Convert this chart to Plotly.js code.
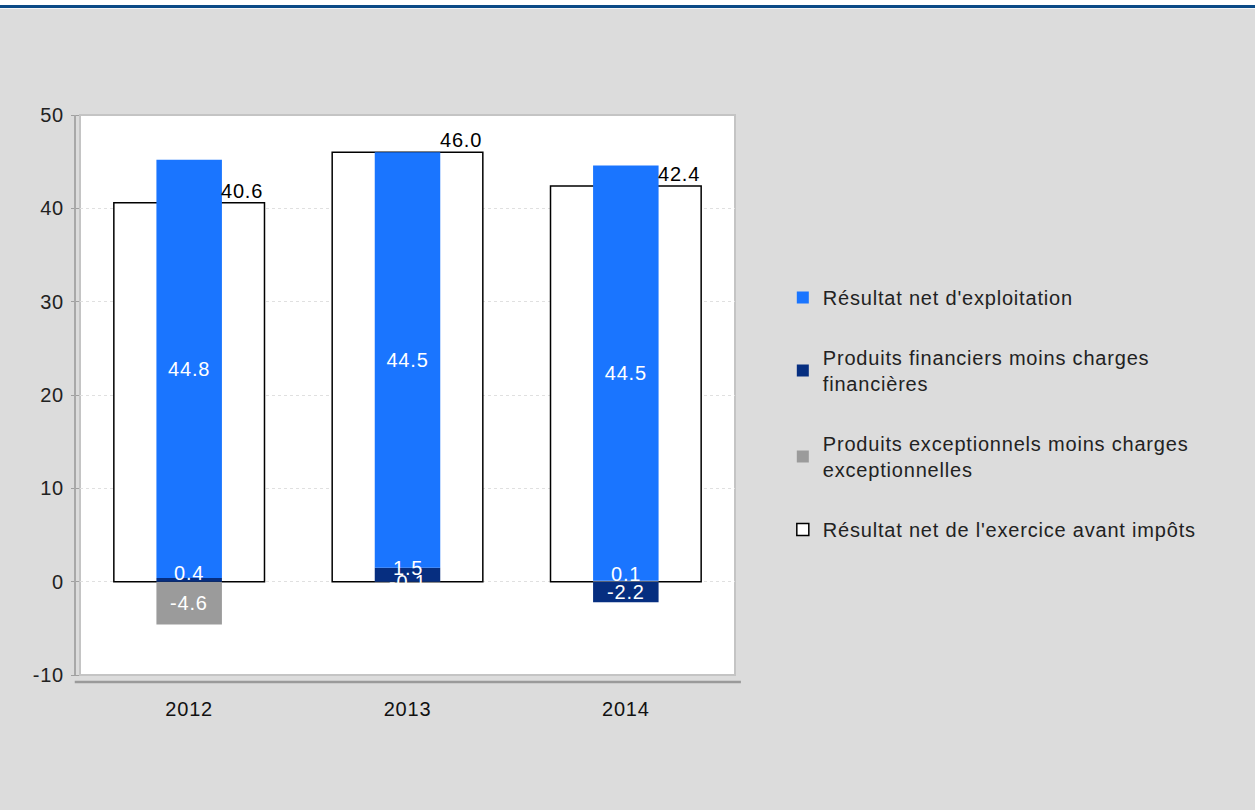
<!DOCTYPE html>
<html>
<head>
<meta charset="utf-8">
<script src="https://cdn.plot.ly/plotly-3.0.1.min.js"></script>
<style>
  html, body { margin: 0; padding: 0; background: #ffffff; }
  #topgap { height: 5px; background: #ffffff; }
  #topline { height: 3px; background: #0b4a86; }
  #topgap2 { height: 1px; background: #f4f4f4; }
  #chart { width: 1255px; height: 801px; }
  svg text { letter-spacing: 0.8px; }
</style>
</head>
<body>
<div id="topgap"></div>
<div id="topline"></div>
<div id="topgap2"></div>
<div id="chart"></div>
<script>
// ---- data ----
const years = ['2012', '2013', '2014'];
const exploitation = [44.8, 44.5, 44.5];      // Résultat net d'exploitation
const financier = [0.4, 1.5, -2.2];           // Produits financiers moins charges financières
const exceptionnel = [-4.6, -0.1, 0.1];       // Produits exceptionnels moins charges exceptionnelles
const resultat = [40.6, 46.0, 42.4];          // Résultat net de l'exercice avant impôts

const yTickVals = [-10, 0, 10, 20, 30, 40, 50];
const yTickText = ['-10', '0', '10', '20', '30', '40', '50'];

const seriesNames = [
  "Résultat net d'exploitation",
  "Produits financiers moins charges<br>financières",
  "Produits exceptionnels moins charges<br>exceptionnelles",
  "Résultat net de l'exercice avant impôts"
];

const FONT = 'Liberation Sans, Arial, sans-serif';
const FS = 20;
const BAR_W = 0.30;
const BOX_W = 0.69;
const fmt = v => v.toFixed(1);

function stackTrace(vals, name, color, rank, group, withText) {
  const t = {
    type: 'bar', x: years, y: vals, name: name,
    xaxis: 'x2', yaxis: 'y2',
    width: BAR_W,
    marker: { color: color, line: { width: 0 } },
    legendrank: rank, legendgroup: group,
    hoverinfo: 'skip'
  };
  if (withText) {
    t.text = vals.map(fmt);
    t.textposition = 'inside';
    t.insidetextanchor = 'middle';
    t.constraintext = 'none';
    t.textangle = 0;
    t.textfont = { family: FONT, size: FS, color: '#ffffff' };
  } else {
    t.textposition = 'none';
  }
  return t;
}

const traces = [
  {
    type: 'bar', x: years, y: resultat, name: seriesNames[3],
    xaxis: 'x', yaxis: 'y',
    width: BOX_W,
    marker: { color: '#ffffff', line: { color: '#000000', width: 1.5 } },
    legendrank: 4, legendgroup: 'g4',
    hoverinfo: 'skip'
  },
  stackTrace(exceptionnel, seriesNames[2], '#9b9b9b', 3, 'g3', false),
  stackTrace(financier, seriesNames[1], '#062e80', 2, 'g2', false),
  stackTrace(exploitation, seriesNames[0], '#1a75ff', 1, 'g1', true)
];

// labels of the small stacked segments (same stacking order as the traces)
const segAnnotations = [];
const posBase = years.map(() => 0);
const negBase = years.map(() => 0);
[exceptionnel, financier].forEach(series => {
  series.forEach((v, i) => {
    let c;
    if (v >= 0) { c = posBase[i] + v / 2; posBase[i] += v; }
    else { c = negBase[i] + v / 2; negBase[i] += v; }
    segAnnotations.push({
      xref: 'x', yref: 'y', x: i, y: c,
      text: fmt(v), showarrow: false,
      xanchor: 'center', yanchor: 'middle',
      yshift: (v > 0 && v < 2) ? 7 : 0,
      font: { family: FONT, size: FS, color: '#ffffff' }
    });
  });
});

const boxAnnotations = resultat.map((v, i) => ({
  xref: 'x', yref: 'y',
  x: i + BOX_W / 2, y: v,
  text: fmt(v),
  showarrow: false,
  xanchor: 'right', yanchor: 'bottom',
  font: { family: FONT, size: FS, color: '#000000' },
  borderpad: 0
}));

const layout = {
  width: 1255, height: 801,
  margin: { l: 80, r: 520, t: 106, b: 135 },
  paper_bgcolor: '#dcdcdc',
  plot_bgcolor: '#ffffff',
  barmode: 'relative',
  showlegend: true,
  font: { family: FONT, size: FS, color: '#222222' },
  xaxis: {
    type: 'category', range: [-0.5, 2.5],
    showgrid: false, zeroline: false, showline: false,
    ticks: '', ticklabelstandoff: 20,
    tickfont: { family: FONT, size: FS, color: '#111111' },
    fixedrange: true
  },
  yaxis: {
    range: [-10, 50], tickvals: yTickVals, ticktext: yTickText,
    showgrid: true, gridcolor: '#e0e0e0', griddash: '3px,3px', gridwidth: 1,
    zeroline: false, showline: false,
    ticks: 'outside', ticklen: 8, tickcolor: '#a0a0a0', tickwidth: 1,
    ticklabelstandoff: 3,
    tickfont: { family: FONT, size: FS, color: '#222222' },
    fixedrange: true
  },
  xaxis2: { type: 'category', overlaying: 'x', matches: 'x', range: [-0.5, 2.5], visible: false },
  yaxis2: { overlaying: 'y', matches: 'y', range: [-10, 50], visible: false },
  legend: {
    x: 1.073, xanchor: 'left',
    y: 0.709, yanchor: 'top',
    bgcolor: 'rgba(0,0,0,0)',
    font: { family: FONT, size: FS, color: '#222222' },
    traceorder: 'grouped',
    tracegroupgap: 31,
    valign: 'middle',
    itemclick: false, itemdoubleclick: false
  },
  annotations: segAnnotations.concat(boxAnnotations),
  shapes: [
    { type: 'rect', xref: 'x domain', yref: 'y domain', x0: 0, x1: 1, y0: 0, y1: 1,
      line: { color: '#c4c4c4', width: 2 }, fillcolor: 'rgba(0,0,0,0)', layer: 'below' },
    { type: 'line', xref: 'x domain', yref: 'y domain', x0: -0.008, x1: 1.009,
      ysizemode: 'pixel', yanchor: 0, y0: -7, y1: -7,
      line: { color: '#9a9a9a', width: 2.5 } },
    { type: 'line', yref: 'y domain', xref: 'x domain', y0: 0, y1: 1,
      xsizemode: 'pixel', xanchor: 0, x0: -5, x1: -5,
      line: { color: '#a8a8a8', width: 2 } }
  ]
};

Plotly.newPlot('chart', traces, layout, { displayModeBar: false, staticPlot: true });
</script>
</body>
</html>
